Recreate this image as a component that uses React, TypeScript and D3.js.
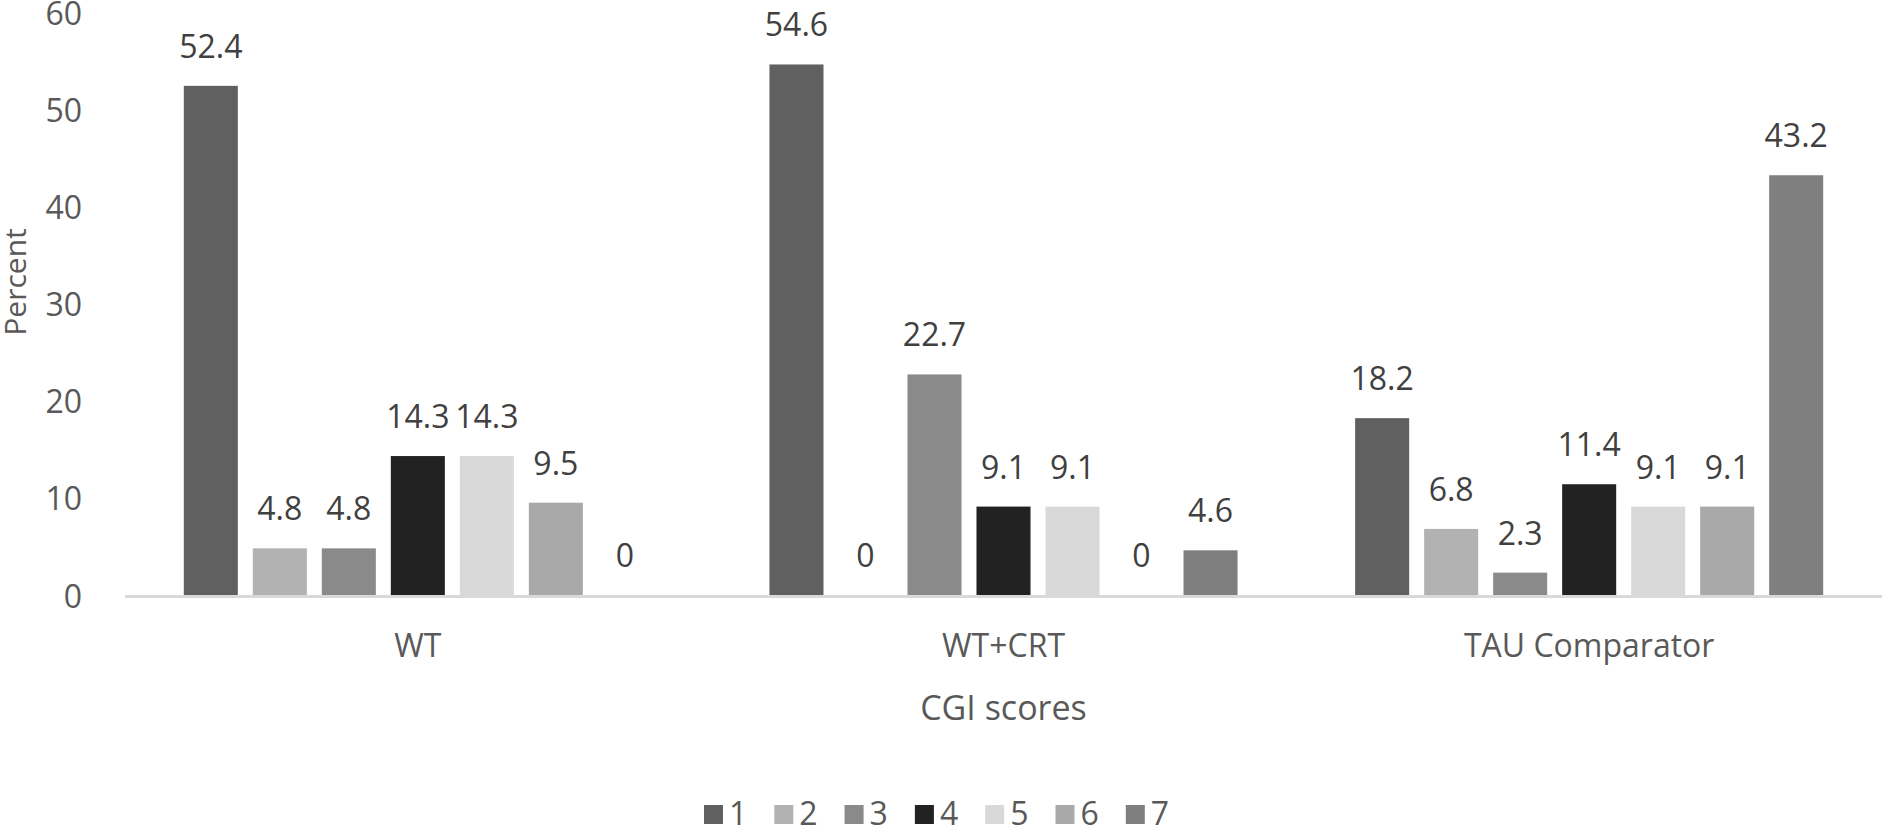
import * as d3 from "d3";

const categories = ["WT", "WT+CRT", "TAU Comparator"];
const scores = ["1", "2", "3", "4", "5", "6", "7"];

// percent per CGI score, one list per group
const wtValues = [52.4, 4.8, 4.8, 14.3, 14.3, 9.5, 0];
const wtCrtValues = [54.6, 0, 22.7, 9.1, 9.1, 0, 4.6];
const tauValues = [18.2, 6.8, 2.3, 11.4, 9.1, 9.1, 43.2];

const yTicks = [0, 10, 20, 30, 40, 50, 60];

const scoreColors = ["#606060", "#b2b2b2", "#8a8a8a", "#222222", "#d9d9d9", "#a9a9a9", "#7f7f7f"];

const W = 1885;
const H = 831;
const FONT = "'Open Sans', sans-serif";

export default function App() {
  const groups = [wtValues, wtCrtValues, tauValues];

  const x0 = d3.scaleBand().domain(categories).range([125, 1882]);
  const x1 = d3
    .scaleBand()
    .domain(scores)
    .range([0, x0.bandwidth()])
    .paddingInner(0.217)
    .paddingOuter(0.852);
  const y = d3.scaleLinear().domain([0, 60]).range([595, 12]);

  const legendX = d3.scaleBand().domain(scores).range([704, 704 + 7 * 70.3]);
  const plotMid = (x0.range()[0] + x0.range()[1]) / 2;

  return (
    <svg
      width={W}
      height={H}
      style={{ position: "absolute", left: 0, top: 0, background: "#fff" }}
      fontFamily={FONT}
    >
      {/* y tick labels */}
      {yTicks.map((t) => (
        <text
          key={t}
          x={82}
          y={y(t)}
          textAnchor="end"
          dominantBaseline="central"
          fontSize={32}
          fill="#595959"
        >
          {t}
        </text>
      ))}

      {/* bars + labels */}
      {groups.map((vals, gi) => (
        <g key={categories[gi]} transform={`translate(${x0(categories[gi])},0)`}>
          {vals.map((v, i) => (
            <rect
              key={scores[i]}
              x={x1(scores[i])}
              y={y(v)}
              width={x1.bandwidth()}
              height={y(0) - y(v)}
              fill={scoreColors[i]}
            />
          ))}
          {vals.map((v, i) => (
            <text
              key={"l" + scores[i]}
              x={(x1(scores[i]) as number) + x1.bandwidth() / 2}
              y={y(v) - 28}
              textAnchor="middle"
              fontSize={32}
              fill="#404040"
            >
              {v}
            </text>
          ))}
        </g>
      ))}

      {/* x axis line */}
      <line x1={125} x2={1882} y1={596.5} y2={596.5} stroke="#d9d9d9" strokeWidth={3} />

      {/* category labels */}
      {categories.map((c) => (
        <text
          key={c}
          x={(x0(c) as number) + x0.bandwidth() / 2}
          y={657}
          textAnchor="middle"
          fontSize={32}
          fill="#595959"
        >
          {c}
        </text>
      ))}

      {/* axis titles */}
      <text x={plotMid} y={720} textAnchor="middle" fontSize={34} fill="#595959">
        CGI scores
      </text>
      <text
        transform="translate(26,282) rotate(-90)"
        textAnchor="middle"
        fontSize={30}
        fill="#595959"
      >
        Percent
      </text>

      {/* legend */}
      {scores.map((s, i) => (
        <g key={"lg" + s} transform={`translate(${legendX(s)},0)`}>
          <rect x={0} y={805} width={19} height={19} fill={scoreColors[i]} />
          <text x={25} y={825} fontSize={32} fill="#595959">
            {s}
          </text>
        </g>
      ))}
    </svg>
  );
}
